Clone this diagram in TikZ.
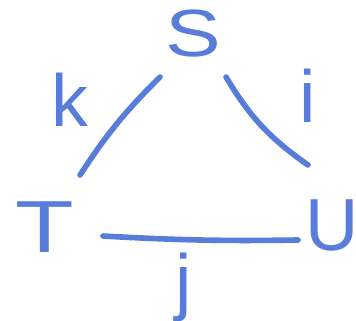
\documentclass[tikz,border=0pt]{standalone}
\usepackage{fontspec}
\setmainfont{Liberation Sans}
\begin{document}
\begin{tikzpicture}
\definecolor{pen}{RGB}{88,124,218}
\tikzset{
  lbl/.style={text=pen, inner sep=0pt, font=\fontsize{21}{24}\selectfont},
  stroke/.style={draw=pen, line width=1.6pt, line cap=round}
}
\useasboundingbox (0,0) rectangle (3.56,3.20);
\node[lbl, font=\fontsize{19}{22}\selectfont, xscale=1.25] (S) at (1.93,2.86) {S};
\node[lbl, xscale=1.3] (T) at (0.45,0.93) {T};
\node[lbl] (U) at (3.32,0.95) {U};
\node[lbl] (k) at (0.70,2.20) {k};
\node[lbl] (i) at (3.08,2.24) {i};
\node[lbl] (j) at (1.84,0.33) {j};
\coordinate (k1) at (1.60,2.43);
\coordinate (k2) at (0.80,1.45);
\coordinate (i1) at (2.26,2.43);
\coordinate (i2) at (3.08,1.55);
\coordinate (j1) at (1.03,0.84);
\coordinate (j2) at (2.98,0.80);
\draw[stroke] (k1) to[bend right=6] (k2);
\draw[stroke] (i1) to[bend right=12] (i2);
\draw[stroke] (j1) to[bend right=2] (j2);
\end{tikzpicture}
\end{document}
